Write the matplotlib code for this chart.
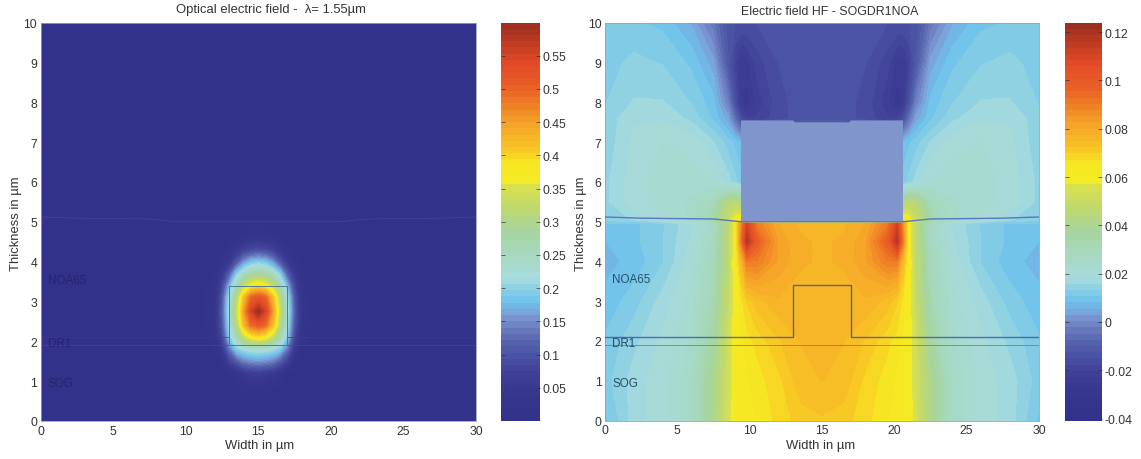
import numpy as np
import matplotlib
matplotlib.use('Agg')
import matplotlib.pyplot as plt
from matplotlib.colors import LinearSegmentedColormap

plt.rcParams['font.family'] = ['Liberation Sans', 'DejaVu Sans']

W, H = 1141, 460

# Optical field (|E| at each grid point)
opt_x = [0, 11, 12, 12.5, 13, 13.5, 14, 14.5, 15, 15.5, 16, 16.5, 17, 17.5, 18, 19, 30]
opt_y = [0, 0.8, 1.2, 1.5, 1.8, 2.1, 2.4, 2.75, 3.1, 3.4, 3.7, 4.0, 4.3, 4.6, 5.0, 10]
opt_z = [
    [0, 0, 0, 0, 0, 0, 0, 0, 0, 0, 0, 0, 0, 0, 0, 0, 0],
    [0, 0, 0, 0, 0, 0.005, 0.01, 0.012, 0.015, 0.012, 0.01, 0.005, 0, 0, 0, 0, 0],
    [0, 0, 0, 0.003, 0.01, 0.03, 0.05, 0.06, 0.065, 0.06, 0.05, 0.03, 0.01, 0.003, 0, 0, 0],
    [0, 0, 0.003, 0.02, 0.07, 0.11, 0.14, 0.15, 0.155, 0.15, 0.14, 0.11, 0.07, 0.02, 0.003, 0, 0],
    [0, 0, 0.01, 0.05, 0.13, 0.19, 0.21, 0.22, 0.225, 0.22, 0.21, 0.19, 0.13, 0.05, 0.01, 0, 0],
    [0, 0, 0.02, 0.08, 0.19, 0.26, 0.33, 0.37, 0.39, 0.37, 0.33, 0.26, 0.19, 0.08, 0.02, 0, 0],
    [0, 0.002, 0.025, 0.1, 0.21, 0.31, 0.42, 0.49, 0.51, 0.49, 0.42, 0.31, 0.21, 0.1, 0.025, 0.002, 0],
    [0, 0.002, 0.03, 0.11, 0.22, 0.33, 0.45, 0.55, 0.6, 0.55, 0.45, 0.33, 0.22, 0.11, 0.03, 0.002, 0],
    [0, 0.002, 0.025, 0.1, 0.21, 0.31, 0.42, 0.5, 0.52, 0.5, 0.42, 0.31, 0.21, 0.1, 0.025, 0.002, 0],
    [0, 0, 0.02, 0.08, 0.17, 0.26, 0.33, 0.37, 0.39, 0.37, 0.33, 0.26, 0.17, 0.08, 0.02, 0, 0],
    [0, 0, 0.012, 0.05, 0.11, 0.19, 0.24, 0.27, 0.28, 0.27, 0.24, 0.19, 0.11, 0.05, 0.012, 0, 0],
    [0, 0, 0.005, 0.02, 0.05, 0.1, 0.15, 0.18, 0.19, 0.18, 0.15, 0.1, 0.05, 0.02, 0.005, 0, 0],
    [0, 0, 0, 0.005, 0.02, 0.045, 0.07, 0.085, 0.09, 0.085, 0.07, 0.045, 0.02, 0.005, 0, 0, 0],
    [0, 0, 0, 0, 0.005, 0.015, 0.025, 0.03, 0.032, 0.03, 0.025, 0.015, 0.005, 0, 0, 0, 0],
    [0, 0, 0, 0, 0, 0, 0.002, 0.004, 0.005, 0.004, 0.002, 0, 0, 0, 0, 0, 0],
    [0, 0, 0, 0, 0, 0, 0, 0, 0, 0, 0, 0, 0, 0, 0, 0, 0],
]

# HF field, right panel. Left half only, the picture is mirror symmetric about x = 15
hf_x_half = [0, 2, 4, 6, 7.5, 8.5, 9, 9.4, 9.8, 10.5, 12, 13.5, 15]
hf_y = [0, 1, 2, 3, 4, 4.5, 4.95, 5.05, 5.5, 6, 7, 7.6, 8, 9, 10]
hf_z_half = [
    [.010, .017, .020, .026, .040, .054, .060, .062, .063, .065, .068, .071, .072],
    [.012, .017, .020, .026, .040, .052, .060, .063, .064, .066, .069, .074, .075],
    [.011, .015, .019, .024, .036, .052, .060, .064, .066, .068, .072, .075, .076],
    [.009, .012, .017, .022, .032, .048, .060, .066, .070, .074, .077, .076, .076],
    [.007, .009, .013, .020, .030, .046, .062, .075, .090, .090, .082, .078, .077],
    [.008, .010, .013, .019, .028, .046, .060, .090, .118, .098, .082, .078, .077],
    [.010, .010, .013, .018, .026, .045, .062, .085, .110, .090, .080, .077, .076],
    [.014, .016, .020, .024, .034, .050, .060, .065, 0, 0, 0, 0, 0],
    [.015, .020, .022, .024, .030, .044, .045, .040, 0, 0, 0, 0, 0],
    [.015, .020, .022, .022, .021, .017, .014, .012, 0, 0, 0, 0, 0],
    [.014, .019, .021, .020, .016, .012, .010, .008, 0, 0, 0, 0, 0],
    [.014, .018, .018, .015, .010, .004, -.006, -.016, -.020, -.020, -.016, -.014, -.014],
    [.013, .016, .016, .013, .009, -.002, -.015, -.025, -.027, -.022, -.016, -.014, -.014],
    [.012, .014, .013, .010, .004, -.012, -.020, -.025, -.024, -.019, -.015, -.014, -.014],
    [.011, .011, .010, .005, -.004, -.014, -.015, -.015, -.015, -.015, -.014, -.014, -.014],
]

# Layer geometry
guide_x = [0, 13, 13, 17, 17, 30]
guide_y = [2.1, 2.1, 3.4, 3.4, 2.1, 2.1]
sog_x = [0, 30]
sog_y = [1.9, 1.9]
noa_x = [0, 2.5, 7.5, 9.4, 20.6, 22.5, 27.5, 30]
noa_y = [5.12, 5.09, 5.07, 5.0, 5.0, 5.07, 5.09, 5.12]
rect_x = [13, 13, 17, 17, 13]
rect_y = [1.9, 3.4, 3.4, 1.9, 1.9]
box_x = [9.4, 9.4, 13, 13.1, 16.9, 17, 20.6, 20.6]
box_y = [5.0, 7.55, 7.55, 7.5, 7.5, 7.55, 7.55, 5.0]
layer_names = ['NOA65', 'DR1', 'SOG']
layer_y = [3.55, 1.95, 0.95]

opt_ticks = [0.05, 0.1, 0.15, 0.2, 0.25, 0.3, 0.35, 0.4, 0.45, 0.5, 0.55]
opt_ticklabels = ['0.05', '0.1', '0.15', '0.2', '0.25', '0.3', '0.35', '0.4', '0.45', '0.5', '0.55']
hf_ticks = [-0.04, -0.02, 0, 0.02, 0.04, 0.06, 0.08, 0.1, 0.12]
hf_ticklabels = ['-0.04', '-0.02', '0', '0.02', '0.04', '0.06', '0.08', '0.1', '0.12']

# Colormap picked from the colorbars
cmap = LinearSegmentedColormap.from_list('field', [
    (0.0, '#32328a'), (0.06, '#35358c'), (0.12, '#3f3f97'), (0.2, '#5564ae'),
    (0.242, '#7083c4'), (0.27, '#7ba0d8'), (0.3, '#6cc1ec'), (0.36, '#a8dcdc'),
    (0.42, '#a6d8c0'), (0.48, '#a8d59c'), (0.54, '#c0d96c'), (0.59, '#d8e050'),
    (0.605, '#f5ec22'), (0.65, '#f6e622'), (0.69, '#f8c226'), (0.74, '#f6a928'), (0.79, '#f08426'),
    (0.84, '#e95f26'), (0.9, '#e24a28'), (0.95, '#c03c22'), (1.0, '#9a2e1e'),
], N=256)


def px_axes(fig, x0, x1, y0, y1):
    # pixel box (top-left origin) to figure fractions
    return fig.add_axes([x0 / W, 1 - y1 / H, (x1 - x0) / W, (y1 - y0) / H])


def style_axes(ax):
    ax.set_xlim(0, 30)
    ax.set_ylim(0, 10)
    ax.set_xticks([0, 5, 10, 15, 20, 25, 30])
    ax.set_yticks(range(11))
    ax.tick_params(labelsize=8.8, length=0, pad=2.6, labelcolor='#333333')
    for s in ax.spines.values():
        s.set_color('#8fa3bf')
        s.set_linewidth(0.6)


def make_colorbar(fig, cs, cax, ticks, labels):
    cb = fig.colorbar(cs, cax=cax)
    cb.set_ticks(ticks)
    cb.set_ticklabels(labels)
    cb.outline.set_visible(False)
    cax.tick_params(labelsize=8.8, length=3, width=0.5, direction='in', left=True, right=True,
                    color='#333333', pad=1.5, labelcolor='#333333')
    cax.minorticks_off()
    return cb


fig = plt.figure(figsize=(W / 100, H / 100), dpi=100)

# left panel
ax1 = px_axes(fig, 40.7, 476, 23.5, 422)
levels1 = np.linspace(0, 0.6, 65)
cs1 = ax1.contourf(opt_x, opt_y, opt_z, levels=levels1, cmap=cmap, vmin=0, vmax=0.6)
ax1.plot(sog_x, sog_y, color='#3f4a9c', lw=0.5)
ax1.plot(noa_x, noa_y, color='#3f4a9c', lw=0.5)
ax1.plot([0, 13], [2.1, 2.1], color='#383c92', lw=0.5)
ax1.plot([17, 30], [2.1, 2.1], color='#383c92', lw=0.5)
ax1.plot(rect_x, rect_y, color='#527c8e', lw=0.7)
style_axes(ax1)
for name, y in zip(layer_names, layer_y):
    ax1.text(0.5, y, name, fontsize=8.4, color='#25256e', va='center')
cax1 = px_axes(fig, 501.3, 540, 23.5, 422)
make_colorbar(fig, cs1, cax1, opt_ticks, opt_ticklabels)

# right panel
hf_x = hf_x_half + [30 - v for v in hf_x_half[-2::-1]]
hf_z = [row + row[-2::-1] for row in hf_z_half]
ax2 = px_axes(fig, 605, 1039, 24, 421.5)
levels2 = np.linspace(-0.0408, 0.1238, 65)
cs2 = ax2.contourf(hf_x, hf_y, np.array(hf_z), levels=levels2, cmap=cmap, vmin=-0.0408, vmax=0.1238)
ax2.fill(box_x, box_y, color='#7f95cb', lw=0, zorder=3)
ax2.plot(noa_x, noa_y, color='#5578c0', lw=1.0, zorder=4)
ax2.plot(guide_x, guide_y, color='#2a3fa0', alpha=0.7, lw=1.0, zorder=4)
ax2.plot(sog_x, sog_y, color='#4a5fb0', alpha=0.6, lw=0.7, zorder=4)
style_axes(ax2)
for name, y in zip(layer_names, layer_y):
    ax2.text(0.5, y, name, fontsize=8.4, color='#25506e', va='center', zorder=5)
cax2 = px_axes(fig, 1064.7, 1102.3, 24, 421.5)
make_colorbar(fig, cs2, cax2, hf_ticks, hf_ticklabels)

# titles and axis labels placed by pixel to follow the original
txt = dict(ha='center', va='center', color='#333333')
fig.text(271 / W, 1 - 10 / H, 'Optical electric field -  \u03bb= 1.55\u00b5m', fontsize=9.4, **txt)
fig.text(830 / W, 1 - 12 / H, 'Electric field HF - SOGDR1NOA', fontsize=8.9, **txt)
fig.text(260 / W, 1 - 446 / H, 'Width in \u00b5m', fontsize=9.4, **txt)
fig.text(821 / W, 1 - 446 / H, 'Width in \u00b5m', fontsize=9.4, **txt)
fig.text(15.7 / W, 1 - 224 / H, 'Thickness in \u00b5m', fontsize=9.4, rotation=90, **txt)
fig.text(581 / W, 1 - 224 / H, 'Thickness in \u00b5m', fontsize=9.4, rotation=90, **txt)

plt.savefig('out.png', dpi=100)
